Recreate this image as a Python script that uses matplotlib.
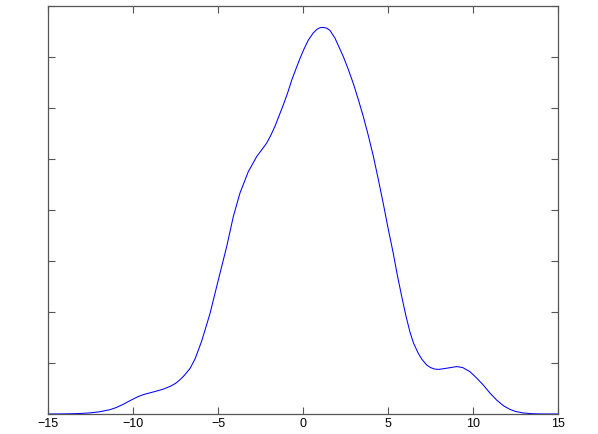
import matplotlib
matplotlib.use("Agg")
import matplotlib.pyplot as plt

x_vals = [-15.0, -14.5, -14.0, -13.5, -13.0, -12.53, -12.0, -11.35, -11.0, -10.57,
          -10.3, -9.98, -9.7, -9.39, -9.0, -8.61, -8.2, -7.82, -7.5, -7.24,
          -7.0, -6.65, -6.35, -5.96, -5.47, -4.98, -4.49, -4.10, -3.71, -3.22,
          -2.72, -2.45, -2.14, -1.9, -1.65, -1.16, -0.9, -0.66, -0.4, -0.18,
          0.05, 0.31, 0.6, 0.81, 1.0, 1.19, 1.4, 1.59, 1.88, 2.37,
          2.65, 2.96, 3.25, 3.55, 3.85, 4.14, 4.43, 4.72, 5.0, 5.31,
          5.55, 5.81, 6.05, 6.29, 6.5, 6.78, 7.0, 7.28, 7.5, 7.76,
          8.0, 8.5, 9.04, 9.4, 9.82, 10.2, 10.6, 11.0, 11.4, 11.8,
          12.18, 12.5, 12.96, 13.5, 14.0, 15.0]
y_vals = [0.0, 0.001, 0.003, 0.006, 0.012, 0.022, 0.042, 0.085, 0.125, 0.19,
          0.24, 0.295, 0.34, 0.38, 0.415, 0.45, 0.49, 0.54, 0.60, 0.67,
          0.75, 0.89, 1.08, 1.43, 1.97, 2.63, 3.28, 3.87, 4.33, 4.75,
          5.05, 5.17, 5.31, 5.46, 5.64, 6.06, 6.30, 6.55, 6.78, 6.97,
          7.15, 7.33, 7.47, 7.54, 7.575, 7.58, 7.565, 7.52, 7.37, 7.01,
          6.77, 6.48, 6.17, 5.83, 5.45, 5.05, 4.60, 4.13, 3.65, 3.15,
          2.72, 2.30, 1.93, 1.61, 1.39, 1.19, 1.07, 0.96, 0.91, 0.88,
          0.875, 0.90, 0.93, 0.91, 0.83, 0.71, 0.57, 0.41, 0.27, 0.16,
          0.09, 0.05, 0.02, 0.006, 0.001, 0.0]
density = [v * 0.01 for v in y_vals]

x_ticks = [-15, -10, -5, 0, 5, 10, 15]
y_ticks = [0.01 * i for i in range(9)]

plt.rcParams['font.family'] = ['Liberation Sans', 'DejaVu Sans']
fig = plt.figure(figsize=(5.98, 4.34), dpi=100)
ax = fig.add_axes([48/598, 20/434, 510/598, 408/434])
ax.plot(x_vals, density, color='#0000ff', linewidth=0.75, antialiased=True)
ax.set_xlim(-15, 15)
ax.set_ylim(0, 0.08)
ax.set_xticks(x_ticks)
ax.set_xticklabels([f"\u2212{abs(t)}" if t < 0 else str(t) for t in x_ticks])
ax.set_yticks(y_ticks)
ax.set_yticklabels([])
ax.tick_params(direction='in', length=5, width=0.8, color='#555555',
               top=True, right=True, labelsize=9, pad=3)
for s in ax.spines.values():
    s.set_color('#555555')
    s.set_linewidth(0.9)
fig.savefig("out.png", dpi=100)
